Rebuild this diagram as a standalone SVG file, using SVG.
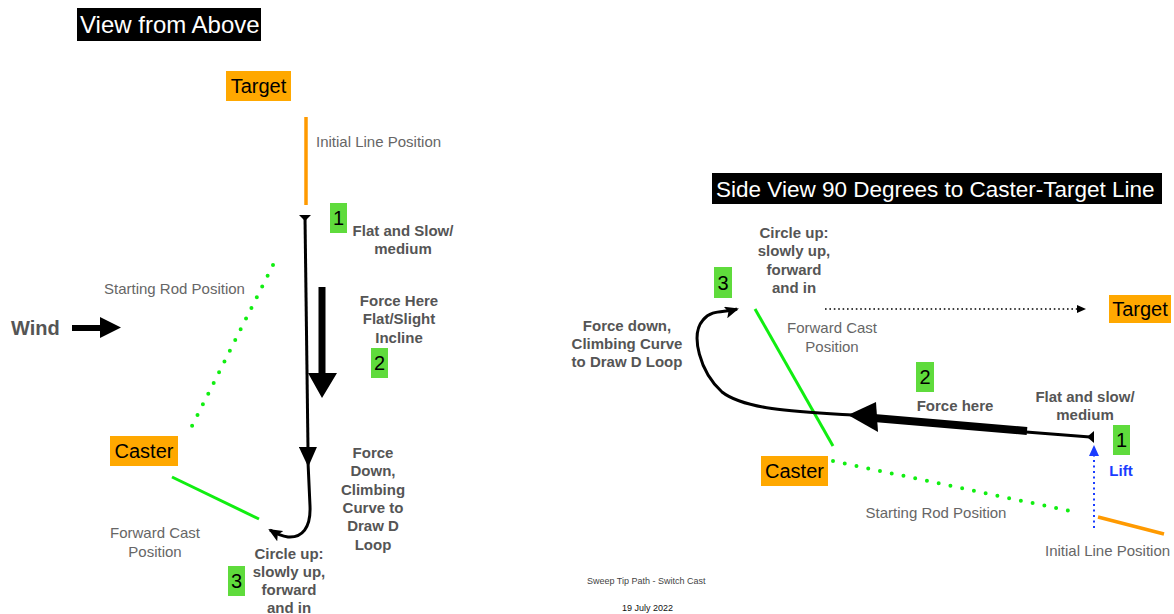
<svg xmlns="http://www.w3.org/2000/svg" width="1174" height="614" viewBox="0 0 1174 614">
<style>
text{font-family:"Liberation Sans",Arial,Helvetica,sans-serif}
.lbl{font-size:15px;fill:#666}
.b{font-size:15px;font-weight:bold;fill:#555}
.c{text-anchor:middle}
.title{font-size:24px;fill:#fff}
.node{font-size:20px;fill:#000}
.orange{fill:#ffa800}
.num{fill:#5fdb3c}
.gline{stroke:#11ee11;stroke-width:3;fill:none}
.gdot{stroke:#11ee11;stroke-width:4;stroke-dasharray:0 12;stroke-linecap:round;fill:none}
.oline{stroke:#ff9a00;stroke-width:3.5;fill:none}
.path{stroke:#000;stroke-width:3;fill:none}
.foot{font-size:9px}
</style>
<defs>
<marker id="arrS" viewBox="0 0 14 12" refX="12" refY="6" markerWidth="14" markerHeight="12" markerUnits="userSpaceOnUse" orient="auto">
<path d="M0,0 L14,6 L0,12 L3,6 z" fill="#000"/>
</marker>
<marker id="arrM" viewBox="0 0 20 18" refX="2" refY="9" markerWidth="20" markerHeight="18" markerUnits="userSpaceOnUse" orient="auto">
<path d="M0,0 L20,9 L0,18 z" fill="#000"/>
</marker>
</defs>
<rect width="1174" height="614" fill="#fff"/>

<!-- LEFT: View from Above -->
<g id="title-left">
<rect x="77" y="8" width="184" height="33" fill="#000"/>
<text class="title" x="80" y="33">View from Above</text>
</g>
<g id="target-left">
<rect class="orange" x="226" y="71" width="65" height="30"/>
<text class="node c" x="258.5" y="93">Target</text>
</g>
<g id="caster-left">
<rect class="orange" x="110" y="436" width="68" height="30"/>
<text class="node c" x="144" y="458">Caster</text>
</g>
<g id="num1-left">
<rect class="num" x="330" y="203" width="17" height="30"/>
<text class="node c" x="338.5" y="225">1</text>
</g>
<g id="num2-left">
<rect class="num" x="371" y="348" width="17" height="30"/>
<text class="node c" x="379.5" y="370">2</text>
</g>
<g id="num3-left">
<rect class="num" x="228" y="566" width="17" height="30"/>
<text class="node c" x="236.5" y="588">3</text>
</g>
<g id="labels-left">
<text class="lbl" x="316" y="147">Initial Line Position</text>
<text class="b c" x="403" y="236">Flat and Slow/</text>
<text class="b c" x="403" y="254">medium</text>
<text class="lbl" x="104" y="294">Starting Rod Position</text>
<text x="11" y="335" style="font-size:20px;font-weight:bold;fill:#555">Wind</text>
<text class="b c" x="399" y="306">Force Here</text>
<text class="b c" x="399" y="324">Flat/Slight</text>
<text class="b c" x="399" y="343">Incline</text>
<text class="lbl c" x="155" y="538">Forward Cast</text>
<text class="lbl c" x="155" y="557">Position</text>
<text class="b c" x="373" y="458">Force</text>
<text class="b c" x="373" y="476">Down,</text>
<text class="b c" x="373" y="495">Climbing</text>
<text class="b c" x="373" y="513">Curve to</text>
<text class="b c" x="373" y="531">Draw D</text>
<text class="b c" x="373" y="550">Loop</text>
<text class="b c" x="289" y="559">Circle up:</text>
<text class="b c" x="289" y="577">slowly up,</text>
<text class="b c" x="289" y="595">forward</text>
<text class="b c" x="289" y="612.5">and in</text>
</g>

<!-- RIGHT: Side View -->
<g id="title-right">
<rect x="712" y="173" width="450" height="31" fill="#000"/>
<text x="716" y="197" style="font-size:22.5px;fill:#fff">Side View 90 Degrees to Caster-Target Line</text>
</g>
<g id="target-right">
<rect class="orange" x="1109" y="295" width="62" height="28"/>
<text class="node c" x="1140" y="316">Target</text>
</g>
<g id="caster-right">
<rect class="orange" x="761" y="456" width="67" height="30"/>
<text class="node c" x="794.5" y="478">Caster</text>
</g>
<g id="num3-right">
<rect class="num" x="714" y="267" width="18" height="31"/>
<text class="node c" x="723" y="290">3</text>
</g>
<g id="num2-right">
<rect class="num" x="916" y="362" width="18" height="30"/>
<text class="node c" x="925" y="384">2</text>
</g>
<g id="num1-right">
<rect class="num" x="1113" y="425" width="17" height="30"/>
<text class="node c" x="1121.5" y="447">1</text>
</g>
<g id="labels-right">
<text class="b c" x="794" y="238">Circle up:</text>
<text class="b c" x="794" y="256">slowly up,</text>
<text class="b c" x="794" y="275">forward</text>
<text class="b c" x="794" y="293">and in</text>
<text class="lbl c" x="832" y="333">Forward Cast</text>
<text class="lbl c" x="832" y="352">Position</text>
<text class="b c" x="627" y="331">Force down,</text>
<text class="b c" x="627" y="349">Climbing Curve</text>
<text class="b c" x="627" y="367">to Draw D Loop</text>
<text class="b c" x="955" y="411">Force here</text>
<text class="b c" x="1085" y="402">Flat and slow/</text>
<text class="b c" x="1085" y="420">medium</text>
<text class="c" x="1121" y="476" style="font-size:15px;font-weight:bold;fill:#1a3cff">Lift</text>
<text class="lbl c" x="936" y="518">Starting Rod Position</text>
<text class="lbl" x="1045" y="556">Initial Line Position</text>
</g>
<g id="footer">
<text class="foot" x="587" y="584" style="fill:#444">Sweep Tip Path - Switch Cast</text>
<text class="foot" x="622" y="611" style="fill:#111">19 July 2022</text>
</g>

<!-- connectors -->
<g id="connectors">
<!-- left -->
<line class="oline" x1="306" y1="117" x2="306" y2="205"/>
<polygon points="299,215 311,215 305,221" fill="#000"/>
<path class="path" d="M305,217 L308,449" marker-end="url(#arrM)"/>
<path class="path" d="M308,462 L310,506 C311,528 302,538 288,537 C280,536 275,533 270,530" marker-end="url(#arrS)"/>
<path d="M318.5,287 H325.5 V373 H337 L322,398 L308,373 H318.5 Z" fill="#000"/>
<path d="M72,325 H100 V317 L121,327.5 L100,338 V331 H72 Z" fill="#000"/>
<line class="gdot" x1="273" y1="265" x2="191" y2="428"/>
<line class="gline" x1="172" y1="477" x2="259" y2="519"/>
<!-- right -->
<line x1="825" y1="309" x2="1078" y2="309" stroke="#000" stroke-width="1.6" stroke-dasharray="1.6 2.8"/>
<polygon points="1077,305 1086,309 1077,313" fill="#000"/>
<line class="gline" x1="755" y1="309" x2="833" y2="446"/>
<line class="gdot" x1="833" y1="461" x2="1070" y2="511"/>
<line class="oline" x1="1098" y1="517" x2="1164" y2="534"/>
<line x1="1094" y1="528" x2="1094" y2="455" stroke="#1a3cff" stroke-width="2" stroke-dasharray="2 3.5"/>
<polygon points="1094,445 1099,456 1089,456" fill="#1a3cff"/>
<line x1="1090" y1="437" x2="1026" y2="432" stroke="#000" stroke-width="3"/>
<polygon points="1094,431 1094,443 1087,437" fill="#000"/>
<line x1="1027" y1="431" x2="874" y2="418" stroke="#000" stroke-width="8"/>
<polygon points="848,415 876,402 878,432" fill="#000"/>
<path class="path" d="M852,415 C800,412 745,410 722,392 C700,372 690,335 703,320 C712,309 724,313 737,309" marker-end="url(#arrS)"/>
</g>
</svg>
